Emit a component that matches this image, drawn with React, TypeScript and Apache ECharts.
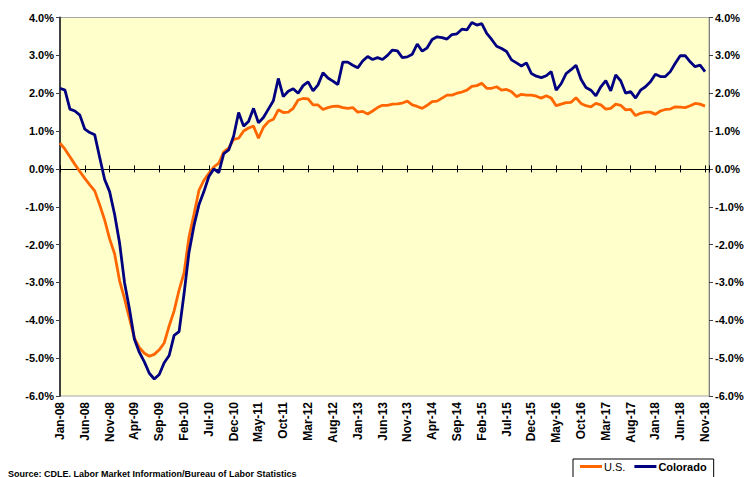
import React, { useEffect, useRef } from "react";
import * as echarts from "echarts";

const tickLabels = [
  "Jan-08", "Jun-08", "Nov-08", "Apr-09", "Sep-09", "Feb-10", "Jul-10", "Dec-10", "May-11",
  "Oct-11", "Mar-12", "Aug-12", "Jan-13", "Jun-13", "Nov-13", "Apr-14", "Sep-14", "Feb-15",
  "Jul-15", "Dec-15", "May-16", "Oct-16", "Mar-17", "Aug-17", "Jan-18", "Jun-18", "Nov-18",
];

const usValues = [
  0.68, 0.52, 0.32, 0.12, -0.07, -0.25, -0.42, -0.58, -0.95, -1.35,
  -1.85, -2.24, -2.95, -3.43, -3.95, -4.47, -4.72, -4.87, -4.95, -4.9,
  -4.78, -4.6, -4.15, -3.75, -3.2, -2.75, -1.8, -1.2, -0.57, -0.3,
  -0.12, 0.05, 0.15, 0.45, 0.55, 0.78, 0.81, 1.0, 1.08, 1.13,
  0.81, 1.1, 1.25, 1.31, 1.56, 1.49, 1.5, 1.6, 1.82, 1.86,
  1.85, 1.69, 1.69, 1.57, 1.62, 1.65, 1.66, 1.62, 1.6, 1.62,
  1.5, 1.52, 1.45, 1.53, 1.62, 1.68, 1.68, 1.71, 1.72, 1.74,
  1.79, 1.69, 1.65, 1.6, 1.68, 1.78, 1.79, 1.87, 1.95, 1.95,
  2.0, 2.03, 2.08, 2.18, 2.2, 2.26, 2.13, 2.13, 2.17, 2.08,
  2.1, 2.04, 1.91, 1.97, 1.95, 1.95, 1.92, 1.87, 1.93, 1.87,
  1.67, 1.71, 1.75, 1.76, 1.88, 1.73, 1.67, 1.64, 1.73, 1.69,
  1.58, 1.6, 1.71, 1.68, 1.56, 1.57, 1.41, 1.47, 1.5, 1.5,
  1.44, 1.53, 1.57, 1.58, 1.64, 1.63, 1.62, 1.67, 1.73, 1.71,
  1.66,
];

const coloradoValues = [
  2.13, 2.08, 1.58, 1.53, 1.42, 1.05, 0.96, 0.9, 0.3, -0.28,
  -0.6, -1.2, -1.95, -3.0, -3.7, -4.5, -4.85, -5.1, -5.4, -5.55,
  -5.43, -5.12, -4.93, -4.4, -4.3, -3.3, -2.2, -1.5, -0.95, -0.6,
  -0.2, 0.0, -0.1, 0.4, 0.5, 0.87, 1.49, 1.13, 1.25, 1.6,
  1.22, 1.36, 1.58, 1.8, 2.39, 1.91, 2.05, 2.12, 2.0, 2.2,
  2.3, 2.06, 2.22, 2.54, 2.4, 2.32, 2.23, 2.82, 2.82, 2.74,
  2.67, 2.85, 2.97, 2.89, 2.94, 2.89, 3.0, 3.14, 3.12, 2.94,
  2.96, 3.03, 3.3, 3.11, 3.2, 3.42, 3.49, 3.47, 3.43, 3.55,
  3.57, 3.69, 3.67, 3.87, 3.8, 3.84, 3.58, 3.42, 3.24, 3.18,
  3.1, 2.88, 2.8, 2.72, 2.8, 2.52, 2.45, 2.41, 2.46, 2.57,
  2.08, 2.25, 2.52, 2.62, 2.74, 2.37, 2.15, 2.08, 1.93, 2.17,
  2.33, 2.06, 2.48, 2.33, 2.0, 2.04, 1.87, 2.08, 2.17, 2.3,
  2.5, 2.44, 2.44, 2.57, 2.79, 2.99, 2.99, 2.83, 2.7, 2.74,
  2.57,
];

const FONT = "'Liberation Sans', Arial, sans-serif";
const X_MAX = 130.8;

export default function App() {
  const ref = useRef<HTMLDivElement>(null);

  useEffect(() => {
    document.body.style.margin = "0";
    const chart = echarts.init(ref.current!, null, { renderer: "svg" });

    const xLabelFormatter = (v: number) => {
      if (Math.abs(v - Math.round(v)) > 1e-6) return "";
      const r = Math.round(v);
      if (r % 5 !== 0) return "";
      return tickLabels[r / 5] ?? "";
    };

    const yLabel = (v: number) => v.toFixed(1) + "%";

    chart.setOption({
      animation: false,
      textStyle: { fontFamily: FONT },
      grid: {
        left: 60,
        top: 17.5,
        right: 38,
        bottom: 81,
        show: true,
        backgroundColor: "#FFFFCC",
        borderColor: "#A6A6A6",
        borderWidth: 1,
      },
      xAxis: [
        {
          type: "value",
          min: 0,
          max: X_MAX,
          interval: 5,
          position: "bottom",
          axisLine: { show: false, onZero: false },
          axisTick: { show: false },
          splitLine: { show: false },
          axisLabel: {
            rotate: 90,
            margin: 6,
            fontSize: 12,
            fontWeight: "bold",
            color: "#000",
            fontFamily: FONT,
            showMaxLabel: false,
            formatter: xLabelFormatter,
          },
        },
        {
          type: "value",
          min: 0,
          max: X_MAX,
          interval: 5,
          position: "bottom",
          axisLine: { show: true, onZero: true, onZeroAxisIndex: 0, lineStyle: { color: "#000", width: 1 } },
          axisTick: { show: true, inside: true, length: 3.5, lineStyle: { color: "#000", width: 1 } },
          axisLabel: { show: false },
          splitLine: { show: false },
        },
        {
          type: "value",
          min: 0,
          max: X_MAX,
          interval: 5,
          position: "bottom",
          axisLine: { show: false, onZero: true, onZeroAxisIndex: 0 },
          axisTick: { show: true, inside: false, length: 3.5, lineStyle: { color: "#000", width: 1 } },
          axisLabel: { show: false },
          splitLine: { show: false },
        },
      ],
      yAxis: [
        {
          type: "value",
          min: -6,
          max: 4,
          interval: 1,
          position: "left",
          axisLine: { show: true, onZero: false, lineStyle: { color: "#404040", width: 2 } },
          axisTick: { show: true, length: 4, lineStyle: { color: "#404040", width: 1 } },
          splitLine: { show: false },
          axisLabel: {
            margin: 6,
            fontSize: 11,
            fontWeight: "bold",
            color: "#000",
            fontFamily: FONT,
            formatter: yLabel,
          },
        },
        {
          type: "value",
          min: -6,
          max: 4,
          interval: 1,
          position: "right",
          axisLine: { show: true, onZero: false, lineStyle: { color: "#808080", width: 1 } },
          axisTick: { show: true, length: 4, lineStyle: { color: "#404040", width: 1 } },
          splitLine: { show: false },
          axisLabel: {
            margin: 6,
            fontSize: 11,
            fontWeight: "bold",
            color: "#000",
            fontFamily: FONT,
            formatter: yLabel,
          },
        },
      ],
      legend: {
        left: 573,
        top: 459,
        orient: "horizontal",
        icon: "rect",
        itemWidth: 22,
        itemHeight: 3,
        itemGap: 9,
        padding: [2, 7, 20, 7],
        borderColor: "#000",
        borderWidth: 1,
        backgroundColor: "#fff",
        data: ["U.S.", "Colorado"],
        textStyle: {
          fontSize: 11,
          color: "#000",
          fontFamily: FONT,
          padding: [0, 0, 0, -3],
          rich: { b: { fontSize: 11, fontWeight: "bold", color: "#000", fontFamily: FONT } },
        },
        formatter: (name: string) => (name === "Colorado" ? "{b|Colorado}" : name),
      },
      graphic: [
        {
          type: "text",
          left: 8,
          top: 469,
          style: {
            text: "Source: CDLE. Labor Market Information/Bureau of Labor Statistics",
            font: `bold 9px ${FONT}`,
            fill: "#000",
          },
        },
      ],
      series: [
        {
          name: "U.S.",
          type: "line",
          xAxisIndex: 0,
          yAxisIndex: 0,
          showSymbol: false,
          symbol: "none",
          lineStyle: { color: "#FF6600", width: 2.8 },
          itemStyle: { color: "#FF6600" },
          data: usValues.map((v, i) => [i, v]),
          z: 3,
        },
        {
          name: "Colorado",
          type: "line",
          xAxisIndex: 0,
          yAxisIndex: 0,
          showSymbol: false,
          symbol: "none",
          lineStyle: { color: "#000080", width: 2.8 },
          itemStyle: { color: "#000080" },
          data: coloradoValues.map((v, i) => [i, v]),
          z: 4,
        },
      ],
    });

    return () => chart.dispose();
  }, []);

  return (
    <div
      ref={ref}
      style={{ position: "absolute", left: 0, top: 0, width: 747, height: 477 }}
    />
  );
}
